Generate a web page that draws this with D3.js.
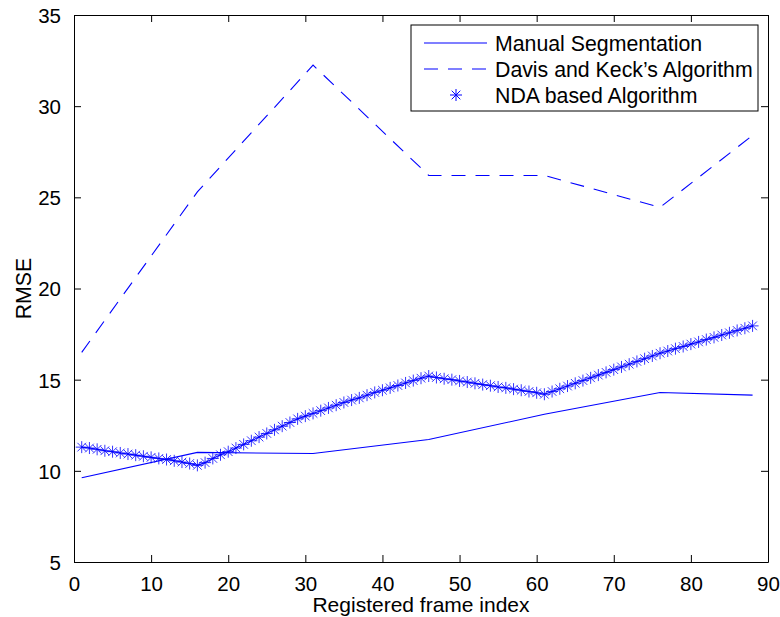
<!DOCTYPE html>
<html>
<head>
<meta charset="utf-8">
<script src="https://cdn.jsdelivr.net/npm/d3@7/dist/d3.min.js"></script>
<style>
html,body{margin:0;padding:0;background:#fff;}
svg{display:block;}
text{font-family:"Liberation Sans",Arial,Helvetica,sans-serif;fill:#000;}
</style>
</head>
<body>
<svg id="chart" width="780" height="617"></svg>
<script>
// ---- data ----
const xTicks = [0,10,20,30,40,50,60,70,80,90];
const yTicks = [5,10,15,20,25,30,35];
const seriesNames = ["Manual Segmentation","Davis and Keck\u2019s Algorithm","NDA based Algorithm"];

const manualX = [1,16,31,46,61,76,88];
const manualY = [9.62,11.01,10.95,11.72,13.1,14.3,14.15];

const davisX = [1,16,31,46,61,76,88];
const davisY = [16.5,25.3,32.25,26.2,26.2,24.45,28.4];

const ndaY = [
 11.30,11.25,11.18,11.10,11.05,10.98,10.92,10.86,10.80,10.74,10.68,10.62,10.55,10.48,10.40,10.30,
 10.45,10.68,10.88,11.05,11.25,11.45,11.65,11.85,12.05,12.25,12.45,12.65,12.85,13.00,13.15,
 13.30,13.45,13.60,13.75,13.88,14.00,14.15,14.30,14.42,14.55,14.68,14.82,14.95,15.08,15.20,
 15.12,15.05,15.00,14.93,14.87,14.80,14.73,14.67,14.60,14.55,14.48,14.42,14.35,14.28,14.20,
 14.35,14.50,14.65,14.80,14.95,15.10,15.25,15.40,15.55,15.70,15.85,16.00,16.15,16.30,16.45,
 16.57,16.70,16.82,16.95,17.07,17.20,17.32,17.45,17.57,17.70,17.82,17.95
];
const ndaX = ndaY.map((_, i) => i + 1);

// ---- layout ----
const svg = d3.select("#chart");
const L = 74, R = 768, T = 15, B = 562;
const x = d3.scaleLinear().domain([0,90]).range([L,R]);
const y = d3.scaleLinear().domain([5,35]).range([B,T]);
const blue = "#0000ff";
const fs = 21.3, tfs = 20.5;

// axes
const tickLen = 7;
const gB = svg.append("g").attr("transform",`translate(0,${B})`)
  .call(d3.axisBottom(x).tickValues(xTicks).tickSizeInner(-tickLen).tickSizeOuter(0).tickPadding(14));
const gT = svg.append("g").attr("transform",`translate(0,${T})`)
  .call(d3.axisTop(x).tickValues(xTicks).tickSizeInner(-tickLen).tickSizeOuter(0).tickFormat(""));
const gL = svg.append("g").attr("transform",`translate(${L},0)`)
  .call(d3.axisLeft(y).tickValues(yTicks).tickSizeInner(-tickLen).tickSizeOuter(0).tickPadding(13));
const gR = svg.append("g").attr("transform",`translate(${R},0)`)
  .call(d3.axisRight(y).tickValues(yTicks).tickSizeInner(-tickLen).tickSizeOuter(0).tickFormat(""));
[gB,gT,gL,gR].forEach(g=>{
  g.selectAll(".domain").attr("stroke","#000").attr("stroke-width",1);
  g.selectAll(".tick line").attr("stroke","#000").attr("stroke-width",1);
  g.selectAll("text").style("font-size",tfs+"px").attr("fill","#000")
   .style("font-family",'"Liberation Sans",Arial,sans-serif');
});
gB.selectAll(".tick text").attr("dy","0.71em");
gL.selectAll(".tick text").attr("dy","0.36em");

// clip
svg.append("defs").append("clipPath").attr("id","clip")
  .append("rect").attr("x",L).attr("y",T).attr("width",R-L).attr("height",B-T);
const plot = svg.append("g").attr("clip-path","url(#clip)");

const line = d3.line().x(d=>x(d[0])).y(d=>y(d[1]));

// manual
plot.append("path").datum(d3.zip(manualX,manualY)).attr("d",line)
  .attr("fill","none").attr("stroke",blue).attr("stroke-width",1.1);
// davis
plot.append("path").datum(d3.zip(davisX,davisY)).attr("d",line)
  .attr("fill","none").attr("stroke",blue).attr("stroke-width",1.1)
  .attr("stroke-dasharray","14,10");
// nda
const ndaData = d3.zip(ndaX,ndaY);
plot.append("path").datum(ndaData).attr("d",line)
  .attr("fill","none").attr("stroke",blue).attr("stroke-width",1.1);

const r = 6, rd = r*0.72;
function asterisk(g){
  g.append("line").attr("x1",-r).attr("x2",r).attr("y1",0).attr("y2",0);
  g.append("line").attr("x1",0).attr("x2",0).attr("y1",-r).attr("y2",r);
  g.append("line").attr("x1",-rd).attr("x2",rd).attr("y1",-rd).attr("y2",rd);
  g.append("line").attr("x1",-rd).attr("x2",rd).attr("y1",rd).attr("y2",-rd);
}
plot.append("g").selectAll("g").data(ndaData).join("g")
  .attr("transform",d=>`translate(${x(d[0])},${y(d[1])})`)
  .attr("stroke",blue).attr("stroke-width",1).attr("stroke-opacity",0.8)
  .each(function(){ asterisk(d3.select(this)); });

// labels
svg.append("text").attr("x",(L+R)/2).attr("y",612).attr("text-anchor","middle")
  .style("font-size","21px").text("Registered frame index");
svg.append("text").attr("transform",`translate(31,${(T+B)/2}) rotate(-90)`)
  .attr("text-anchor","middle").style("font-size",fs+"px").text("RMSE");

// legend
const lg = svg.append("g");
lg.append("rect").attr("x",411).attr("y",25).attr("width",347).attr("height",86)
  .attr("fill","#fff").attr("stroke","#000").attr("stroke-width",1);
const rows = [43,69,95];
lg.append("line").attr("x1",424).attr("x2",487).attr("y1",rows[0]).attr("y2",rows[0])
  .attr("stroke",blue).attr("stroke-width",1.1);
lg.append("line").attr("x1",424).attr("x2",487).attr("y1",rows[1]).attr("y2",rows[1])
  .attr("stroke",blue).attr("stroke-width",1.1).attr("stroke-dasharray","14,10");
lg.append("g").attr("transform",`translate(456,${rows[2]})`)
  .attr("stroke",blue).attr("stroke-width",1).call(asterisk);
seriesNames.forEach((n,i)=>{
  lg.append("text").attr("x",495).attr("y",rows[i]).attr("dy","0.36em")
    .style("font-size",fs+"px").text(n);
});
</script>
</body>
</html>
